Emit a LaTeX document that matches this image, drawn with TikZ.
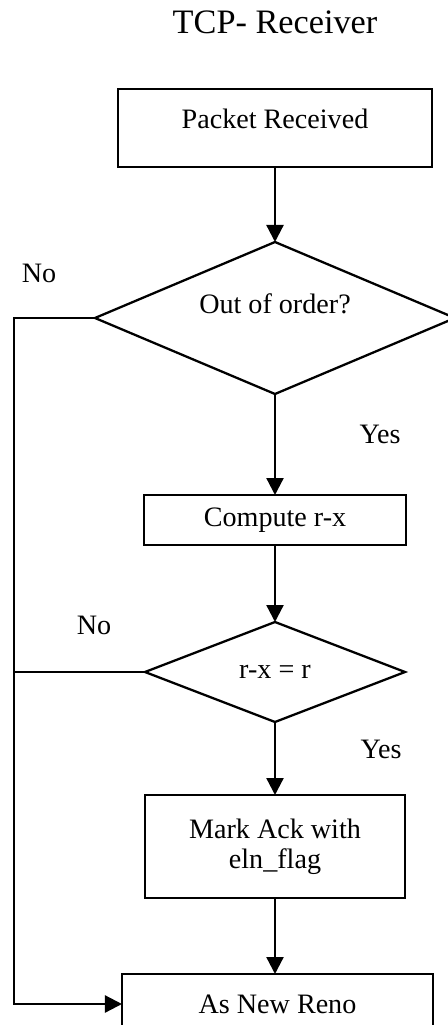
\documentclass[tikz,border=0pt]{standalone}
\usepackage{fontspec}
\setmainfont{Liberation Serif}
\usetikzlibrary{positioning}
\usetikzlibrary{shapes.geometric, arrows.meta}
\tikzstyle{process} = [rectangle, draw=black, line width=1.3pt, outer sep=0pt, text centered, font=\fontsize{16}{17}\selectfont]
\tikzstyle{decision} = [diamond, draw=black, line width=1.3pt, outer sep=0pt, inner sep=0pt, text centered, font=\fontsize{16}{17}\selectfont]
\tikzstyle{tag} = [font=\fontsize{16}{17}\selectfont]
\tikzstyle{arrow} = [line width=1.3pt,-{Triangle[length=0.34cm,width=0.34cm]}]

\begin{document}
\begin{tikzpicture}
        \useasboundingbox (-5.5,0.44) rectangle (3.46,-20.06);
        \node (title) [font=\fontsize{19.5}{22}\selectfont] {TCP- Receiver};
        \node (pkt) [process, below of=title, node distance=2.12cm, minimum width=6.28cm, minimum height=1.56cm, text depth=0.36cm] {Packet Received};
        \node (d1) [decision, below of=pkt, node distance=3.8cm, minimum width=7.2cm, minimum height=3.04cm, aspect=2.37, text height=0.39cm, text depth=0.57cm] {Out of order?};
        \node (comp) [process, below of=d1, node distance=4.04cm, minimum width=5.24cm, minimum height=1cm] {Compute r-x};
        \node (d2) [decision, below of=comp, node distance=3.04cm, minimum width=5.2cm, minimum height=2cm, aspect=2.6] {r-x = r};
        \node (mark) [process, below of=d2, node distance=3.49cm, minimum width=5.2cm, minimum height=2.06cm, align=center] {Mark Ack with\\eln\_flag};
        \node (reno) [process, below of=mark, node distance=3.15cm, xshift=0.05cm, minimum width=6.22cm, minimum height=1.2cm] {As New Reno};
        \node (no1) [tag] at (-4.72,-5.02) {No};
        \node (yes1) [tag] at (2.1,-8.24) {Yes};
        \node (no2) [tag] at (-3.62,-12.06) {No};
        \node (yes2) [tag] at (2.12,-14.54) {Yes};
        \coordinate (rail) at (-5.22,0);
        \draw [arrow] (pkt) -- (d1);
        \draw [arrow] (d1) -- (comp);
        \draw [arrow] (comp) -- (d2);
        \draw [arrow] (d2) -- (mark);
        \draw [arrow] (mark.south) -- (mark.south |- reno.north);
        \draw [arrow] (d1.west) -- (d1.west -| rail) |- (reno.west);
        \draw [line width=1.3pt] (d2.west) -- (d2.west -| rail);

    \end{tikzpicture}
\end{document}
